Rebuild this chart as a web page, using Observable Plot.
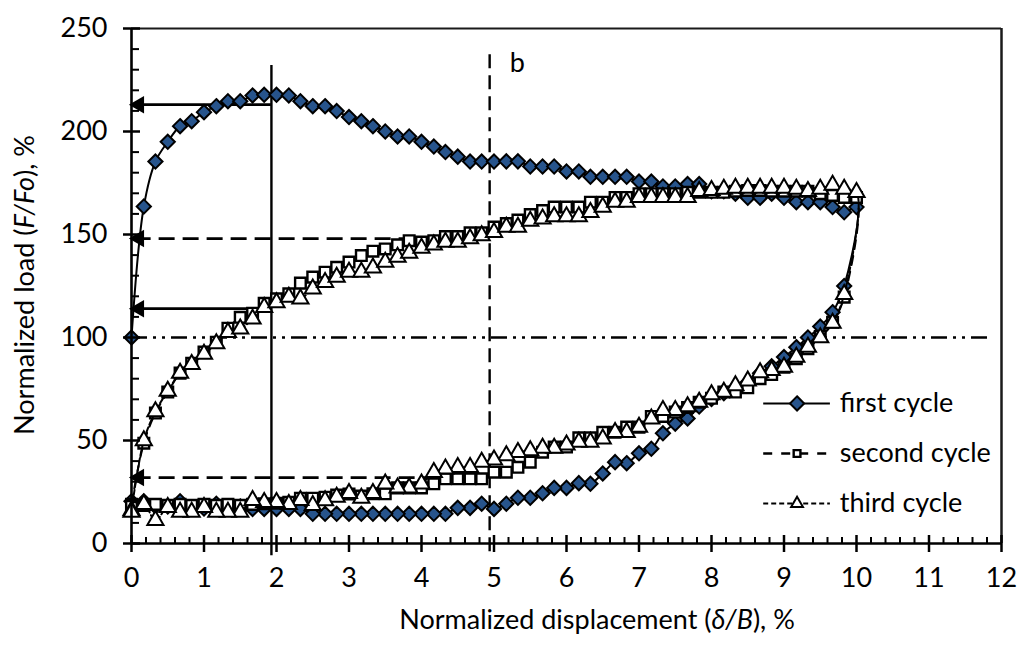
<!DOCTYPE html>
<html><head><meta charset="utf-8">
<script src="https://cdn.jsdelivr.net/npm/d3@7"></script>
<script src="https://cdn.jsdelivr.net/npm/@observablehq/plot@0.6"></script>
<style>
html,body{margin:0;padding:0;background:#fff;}
#chart{width:1025px;height:652px;overflow:hidden;}
svg text{font-family:Lato,"Open Sans",sans-serif;}
</style></head><body><div id="chart"></div>
<script>
// ---- data ----
const displacement = [0,0.17,0.33,0.5,0.67,0.83,1,1.17,1.33,1.5,1.67,1.83,2,2.17,2.33,2.5,2.67,2.83,3,3.17,3.33,3.5,3.67,3.83,4,4.17,4.33,4.5,4.67,4.83,5,5.17,5.33,5.5,5.67,5.83,6,6.17,6.33,6.5,6.67,6.83,7,7.17,7.33,7.5,7.67,7.83,8,8.17,8.33,8.5,8.67,8.83,9,9.17,9.33,9.5,9.67,9.83,10];

const firstLoading = [100,163.6,185.4,195,202.6,205,209.4,212.3,214.7,214.7,217.5,217.8,217.8,217.5,214.7,212.3,212.3,209.9,207,205,202.6,200,197.6,197.6,195,192.7,190,187.8,185.4,185.4,185.4,185.5,185.5,183,183,183,180.6,180.6,178,178,178,178,175.7,175.7,173.3,173.3,174.5,174.5,171,171,169.8,167.8,167.8,169.8,167.8,165.7,165.7,165.7,163.3,160.8,163.3];
const firstUnloading = [20.5,20.5,18,18,20.5,17,17,19.3,18,18,16.8,16.8,16.8,16.8,16.8,14.4,14.4,14.4,14.4,14.4,14.4,14.4,14.4,14.4,14.4,14.4,14.4,17.3,17.3,19.3,16.8,19.3,22.2,22.2,24.4,27,27,29.3,29,34,39.5,39,43.8,46,53.5,58.2,60.7,66.5,70.2,73,75.7,78.3,82.7,86,90.5,95.3,100,105.3,112.3,125];

const secondLoading = [19,48.7,63.3,73.5,82.7,87.5,92.9,97.7,104.5,109.8,111.8,116.6,118.8,121.2,126.4,129.3,131.7,134.1,136.6,139.8,141.9,143,145,147,146.3,147,149,149,150.8,150.8,153.6,155.3,157,159.7,161.6,163.3,163.3,163.3,165.7,165.7,168,168,169.8,169.8,169.8,169.8,170.5,170.5,170.5,170.5,171,171.4,171.4,171,171,171,171,169.8,169,168,168];
const secondUnloading = [18,18.5,19,18.5,19,18.5,19,18.5,19,18.5,19,19.3,19.5,20,22,22,22.5,23.5,24,23,24.1,24.1,27,27,27,29,31.4,31.4,31.4,31.4,34.6,34.6,37,39.5,44.3,46.8,46.8,51.3,51.3,54,54,56.5,56.5,61.7,61.7,63.8,66,68.6,70.5,73.5,73.5,75.6,80,82,85.6,89.7,94.5,100.5,107.4,119.6];

const thirdLoading = [16,50,64,74,82.7,87,92,97,102.5,104.2,109,114.7,117,119.6,118.8,123.6,126.8,129.3,131.7,131.7,133.8,136.6,139,141,143.4,145,146.3,146.3,148,149.5,151,153.6,153.6,156.5,157.6,158.7,158.7,158.7,160.8,163.3,165.7,165.7,168,168,168,168,168,171,171.5,172,172.5,172.5,172.5,172.5,172.5,172,171,172,174,172,170.5];
const thirdUnloading = [15.2,19,11.2,17.6,15.2,15.2,17.6,15.2,15.2,15.2,20.9,20,20,19,20.9,18.5,20.8,22.5,24.4,22,24.4,29,27,27,29,34.6,36.2,37,37,39.5,40.6,42.7,44.3,45.1,46.3,46.3,47.9,49.2,49.2,50.8,54,54,56.5,60.5,64.6,64.6,66.5,68.6,72.3,73.5,76.7,79,83,84,85.6,90.5,95.3,100,107,121];

const seriesNames = ["first cycle", "second cycle", "third cycle"];
const xTicks = [0,1,2,3,4,5,6,7,8,9,10,11,12];
const yTicks = [0,50,100,150,200,250];
const referenceLoad = [100];
const guideSolidX = [1.93];
const guideDashedX = [4.94];
const solidArrowLoads = [213, 114];
const dashedArrowLoads = [148, 32];
const noteLabel = ["b"];

// ---- layout ----
const W = 1025, H = 652, mL = 131, mR = 24, mT = 28, mB = 109;
const frameW = W - mL - mR, frameH = H - mT - mB;
const FONT = 27;
const BLUE = "#27548C";

function cyclePath(load, unload, name) {
  const pts = load.map((y, i) => ({x: displacement[i], y, name}));
  for (let i = unload.length - 1; i >= 0; i--) pts.push({x: displacement[i], y: unload[i], name});
  return pts;
}
const c1 = cyclePath(firstLoading, firstUnloading, seriesNames[0]);
const c2 = cyclePath(secondLoading, secondUnloading, seriesNames[1]);
const c3 = cyclePath(thirdLoading, thirdUnloading, seriesNames[2]);

const minorX = d3.range(0, 60).map(i => i / 5).filter(v => !Number.isInteger(v));
const minorY = d3.range(0, 25).map(i => i * 10).filter(v => v % 50 !== 0);

// legend (drawn inside the frame)
const legX1 = 8.72, legX2 = 9.64, legM = 9.18, legT = 9.77;
const legY = [68, 43.7, 19.4];

const plot = Plot.plot({
  width: W, height: H,
  marginLeft: mL, marginRight: mR, marginTop: mT, marginBottom: mB,
  x: {domain: [0, 12], label: null},
  y: {domain: [0, 250], label: null},
  style: {fontFamily: "Lato, 'Open Sans', sans-serif", fontSize: FONT + "px", color: "#000", background: "#fff", overflow: "visible"},
  marks: [
    // reference lines
    Plot.ruleY(referenceLoad, {x1: 0, x2: 11.85, stroke: "#000", strokeWidth: 2.4, strokeDasharray: "16,6,3,6,3,6"}),
    Plot.ruleX(guideSolidX, {y1: -6, y2: 232, stroke: "#000", strokeWidth: 2.4}),
    Plot.ruleX(guideDashedX, {y1: -4, y2: 238, stroke: "#000", strokeWidth: 2.4, strokeDasharray: "14,7"}),
    Plot.ruleY(solidArrowLoads, {x1: 0.05, x2: guideSolidX[0], stroke: "#000", strokeWidth: 2.8}),
    Plot.ruleY(dashedArrowLoads, {x1: 0.05, x2: guideDashedX[0], stroke: "#000", strokeWidth: 2.8, strokeDasharray: "16,8"}),
    Plot.dot(solidArrowLoads.concat(dashedArrowLoads), {x: 0, y: d => d, symbol: "triangle", r: 6.5, rotate: -90, dx: 7.5, fill: "#000", stroke: "none"}),
    Plot.text(noteLabel, {x: 5.32, y: 233, text: d => d, fontSize: FONT, fill: "#000"}),

    // first cycle
    Plot.line(c1, {x: "x", y: "y", stroke: "#000", strokeWidth: 2, curve: "catmull-rom"}),
    Plot.dot(c1, {x: "x", y: "y", symbol: "diamond2", r: 6.4, fill: BLUE, stroke: "#000", strokeWidth: 2}),
    // second cycle
    Plot.line(c2, {x: "x", y: "y", stroke: "#000", strokeWidth: 2, strokeDasharray: "9,7", curve: "catmull-rom"}),
    Plot.dot(c2, {x: "x", y: "y", symbol: "square", r: 6, fill: "#fff", stroke: "#000", strokeWidth: 2.4}),
    // third cycle
    Plot.line(c3, {x: "x", y: "y", stroke: "#000", strokeWidth: 2, strokeDasharray: "5,3", curve: "catmull-rom"}),
    Plot.dot(c3, {x: "x", y: "y", symbol: "triangle", r: 6, fill: "#fff", stroke: "#000", strokeWidth: 2}),

    // legend
    Plot.ruleY([legY[0]], {x1: legX1, x2: legX2, stroke: "#000", strokeWidth: 2}),
    Plot.ruleY([legY[1]], {x1: legX1, x2: legX2, stroke: "#000", strokeWidth: 2.4, strokeDasharray: "9,9"}),
    Plot.ruleY([legY[2]], {x1: legX1, x2: legX2, stroke: "#000", strokeWidth: 2, strokeDasharray: "5,3"}),
    Plot.dot([legY[0]], {x: legM, y: d => d, symbol: "diamond2", r: 6.4, fill: BLUE, stroke: "#000", strokeWidth: 2}),
    Plot.dot([legY[1]], {x: legM, y: d => d, symbol: "square", r: 3.8, fill: "#fff", stroke: "#000", strokeWidth: 2.4}),
    Plot.dot([legY[2]], {x: legM, y: d => d, symbol: "triangle", r: 4.4, fill: "#fff", stroke: "#000", strokeWidth: 2}),
    Plot.text(seriesNames, {x: legT, y: (d, i) => legY[i], text: d => d, textAnchor: "start", fontSize: FONT, fill: "#000"}),

    // frame (top & right)
    Plot.ruleY([250], {x1: 0, x2: 12, stroke: "#1a1a1a", strokeWidth: 2}),
    Plot.ruleX([12], {y1: 0, y2: 250, stroke: "#1a1a1a", strokeWidth: 2.5}),
    // axes lines
    Plot.ruleX([0], {y1: 0, y2: 250, stroke: "#000", strokeWidth: 2.6}),
    Plot.ruleY([0], {x1: 0, x2: 12, stroke: "#000", strokeWidth: 2.6}),
    // ticks
    Plot.tickX(minorX, {x: d => d, insetTop: frameH - 6, stroke: "#000", strokeWidth: 2}),
    Plot.tickX(xTicks, {x: d => d, insetTop: frameH - 8, insetBottom: -9, stroke: "#000", strokeWidth: 2.5}),
    Plot.tickY(minorY, {y: d => d, insetRight: frameW - 8, stroke: "#000", strokeWidth: 2}),
    Plot.tickY(yTicks, {y: d => d, insetRight: frameW - 9, insetLeft: -8, stroke: "#000", strokeWidth: 2.5}),
    Plot.axisX(xTicks, {tickSize: 0, tickPadding: 24, fontSize: FONT, label: null, tickFormat: d => d}),
    Plot.axisY(yTicks, {tickSize: 0, tickPadding: 24, fontSize: FONT, label: null, tickFormat: d => d})
  ]
});
document.getElementById("chart").appendChild(plot);

// axis titles with italic parts
const svg = d3.select(plot);
const xt = svg.append("text")
  .attr("x", 597).attr("y", 629).attr("text-anchor", "middle")
  .attr("font-size", FONT).attr("fill", "#000");
xt.append("tspan").text("Normalized displacement (");
xt.append("tspan").attr("font-style", "italic").text("δ/B");
xt.append("tspan").text("), %");

const yt = svg.append("text")
  .attr("transform", "translate(34,285) rotate(-90)").attr("text-anchor", "middle")
  .attr("font-size", FONT).attr("fill", "#000");
yt.append("tspan").text("Normalized load (");
yt.append("tspan").attr("font-style", "italic").text("F/Fo");
yt.append("tspan").text("), %");
</script>
</body></html>
